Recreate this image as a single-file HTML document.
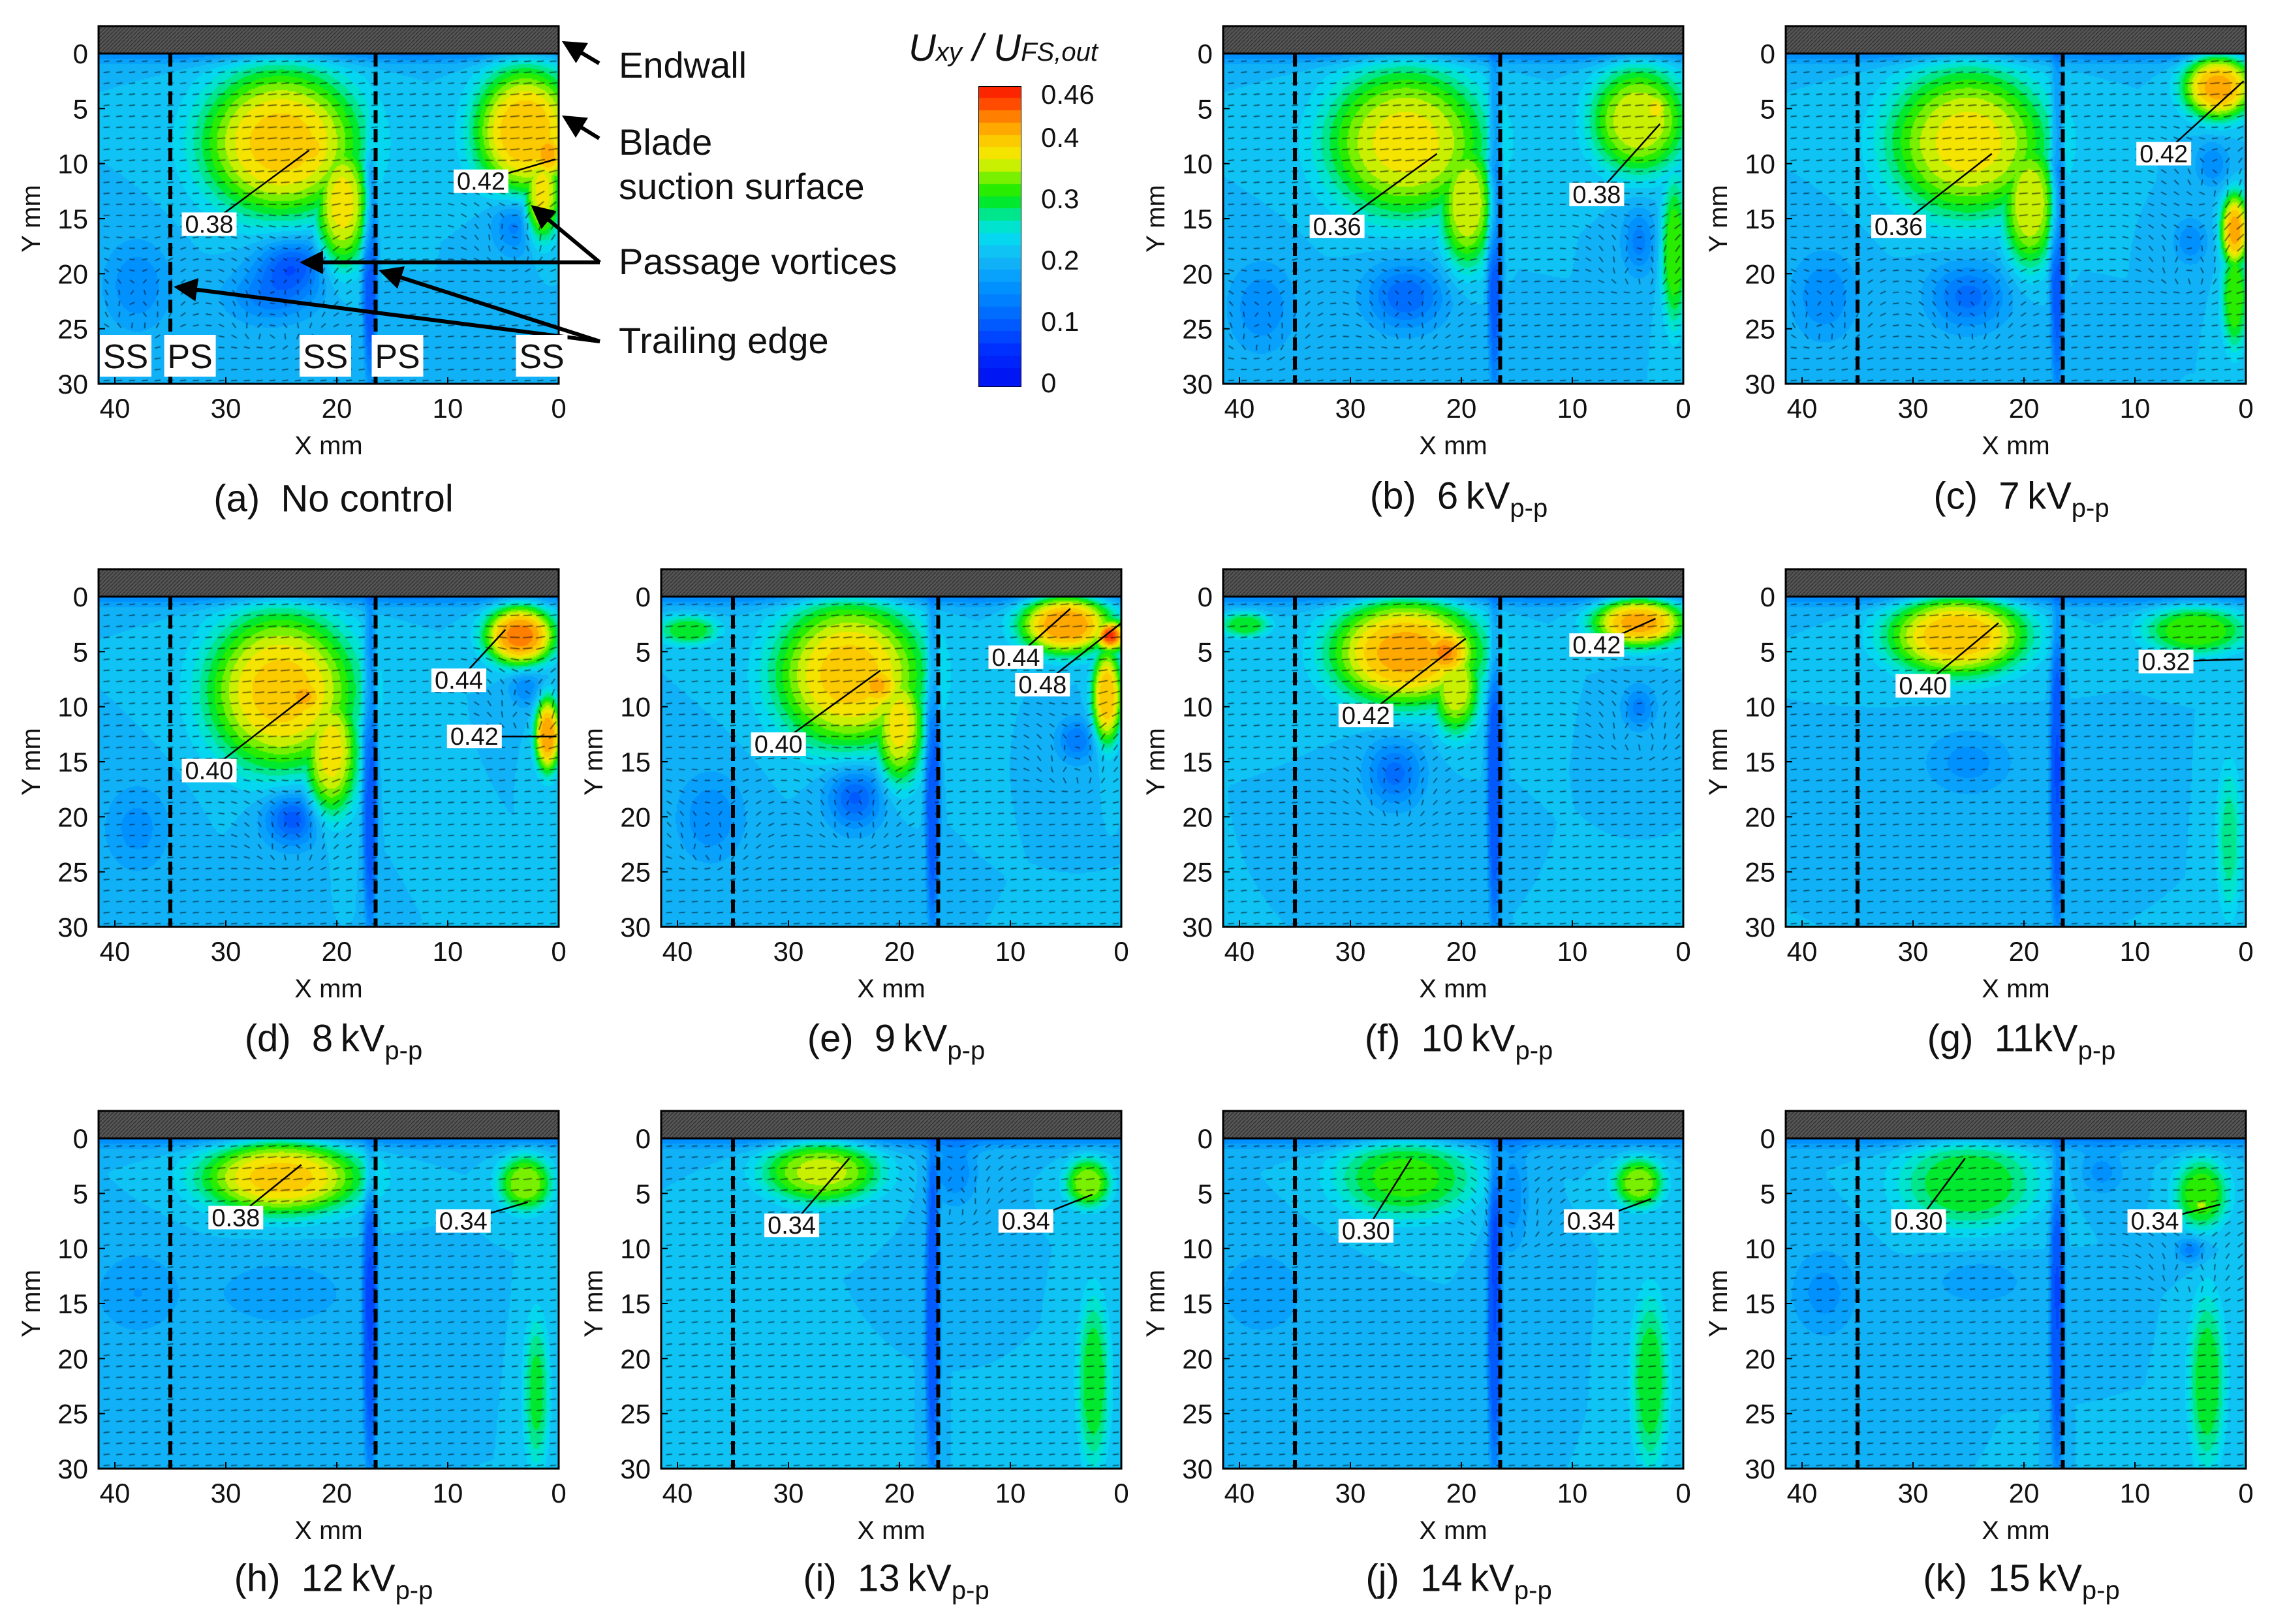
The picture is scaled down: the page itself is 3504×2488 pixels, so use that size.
<!DOCTYPE html>
<html><head><meta charset="utf-8">
<style>
html,body{margin:0;padding:0;background:#fff;}
#root{position:relative;width:3504px;height:2488px;overflow:hidden;background:#fff;font-family:"Liberation Sans",Arial,sans-serif;}
canvas{position:absolute;}
svg{position:absolute;left:0;top:0;}
.cap{position:absolute;font-size:58px;color:#111;white-space:nowrap;transform:translate(-50%,-50%);}
.cap sub{font-size:40px;vertical-align:-12px;}
.ann{position:absolute;font-size:56px;color:#111;white-space:nowrap;line-height:1;}
</style></head>
<body>
<div id="root">
<svg id="ov" width="3504" height="2488"></svg>

<div class="cap" style="left:511px;top:764px">(a)&nbsp; No control</div>
<div class="cap" style="left:2235px;top:764px">(b)&nbsp; 6&#8201;kV<sub>p-p</sub></div>
<div class="cap" style="left:3097px;top:764px">(c)&nbsp; 7&#8201;kV<sub>p-p</sub></div>
<div class="cap" style="left:511px;top:1595px">(d)&nbsp; 8&#8201;kV<sub>p-p</sub></div>
<div class="cap" style="left:1373px;top:1595px">(e)&nbsp; 9&#8201;kV<sub>p-p</sub></div>
<div class="cap" style="left:2235px;top:1595px">(f)&nbsp; 10&#8201;kV<sub>p-p</sub></div>
<div class="cap" style="left:3097px;top:1595px">(g)&nbsp; 11kV<sub>p-p</sub></div>
<div class="cap" style="left:511px;top:2422px">(h)&nbsp; 12&#8201;kV<sub>p-p</sub></div>
<div class="cap" style="left:1373px;top:2422px">(i)&nbsp; 13&#8201;kV<sub>p-p</sub></div>
<div class="cap" style="left:2235px;top:2422px">(j)&nbsp; 14&#8201;kV<sub>p-p</sub></div>
<div class="cap" style="left:3097px;top:2422px">(k)&nbsp; 15&#8201;kV<sub>p-p</sub></div>

<div class="ann" style="left:948px;top:72px">Endwall</div>
<div class="ann" style="left:948px;top:190px">Blade</div>
<div class="ann" style="left:948px;top:258px">suction surface</div>
<div class="ann" style="left:948px;top:373px">Passage vortices</div>
<div class="ann" style="left:948px;top:494px">Trailing edge</div>

<div class="ann" style="left:1392px;top:45px;font-style:italic;font-size:58px">U<span style="font-size:40px">xy</span> / U<span style="font-size:40px">FS,out</span></div>
</div>

<script>
// ---- data ----
const panelIds=['a','b','c','d','e','f','g','h','i','j','k'];
const panelRow=[0,0,0,1,1,1,1,2,2,2,2];
const panelCol=[0,2,3,0,1,2,3,0,1,2,3];
const xTicks=[40,30,20,10,0];
const yTicks=[0,5,10,15,20,25,30];
const cbTicks=[0,0.1,0.2,0.3,0.4,0.46];
const cbTickLabels=['0','0.1','0.2','0.3','0.4','0.46'];
const baseLevel=0.2;
const wake=[17,16,0.7,15,-0.12,2];
const endwallLayer=[20,-0.5,60,1.2,-0.08,1];
// blobs: [xmm, ymm, sx, sy, amplitude, shapePower]; positive blobs combine by max
const blobsA=[[25,8,7.5,7,0.19,1.5],[22.5,8.5,3,3,0.2,1],[19.5,13.5,2.5,6,0.17,1.5],[3,7,4.8,6,0.2,1.5],[1,9,2,3,0.22,1],[1.5,12.5,1.7,4.5,0.17,1.5],[24,19,3,2.5,-0.11,1],[26,22,4,2.5,-0.07,1],[38,21,3,4,-0.06,1],[4,15,2,3,-0.08,1],[17,19,0.7,11,-0.12,2],endwallLayer];
const blobsB=[[25,8,7.5,7,0.17,1.5],[19.5,13.5,2.5,6,0.16,1.5],[4,6,4.5,5,0.16,1.5],[2.5,5,1.5,2,0.18,1],[0.8,18,1.2,7,0.12,1.5],[25,22,3.5,3,-0.1,1],[38,23,3,4,-0.06,1],[4,17,1.5,3,-0.07,1],wake,endwallLayer];
const blobsC=[[25,8,7.5,7,0.17,1.5],[19.5,13.5,2.5,6,0.16,1.5],[2.5,3,3.3,3,0.21,1.5],[1,16,1.3,3.5,0.21,1.5],[1,22,1.2,5,0.12,1.5],[3,10,1.5,2,-0.06,1],[5,17,1.5,2,-0.06,1],[25,22,3.5,3,-0.09,1],[38,22,3,4,-0.06,1],wake,endwallLayer];
const blobsD=[[25,8.5,7,7.5,0.19,1.5],[23,9,3,3,0.21,1],[20.5,14,2.5,6,0.17,1.5],[3.5,3.5,3.3,2.8,0.23,1.5],[1,12.5,1.2,3.5,0.22,1.5],[3,8,1.5,2,-0.06,1],[24,20,2.5,2.5,-0.12,1],[38,21,3,4,-0.05,1],wake,endwallLayer];
const blobsE=[[24.5,7,7,7,0.19,1.5],[22,8,3,3,0.21,1],[20,11.5,2.3,5.5,0.17,1.5],[39,3,2.8,1.4,0.1,1.5],[5,2.5,4.3,2.8,0.22,1.5],[1,3.5,1.5,1.5,0.27,1],[1.3,9,1.4,4.5,0.2,1.5],[4,13,1.8,2,-0.08,1],[24,18,2.5,3,-0.11,1],[37,20,3,4,-0.06,1],wake,endwallLayer];
const blobsF=[[25,5,7,5,0.21,1.5],[21.5,5,3,3,0.23,1],[20.5,8,2.2,4.5,0.16,1.5],[39.5,2.5,2.3,1.2,0.1,1.5],[4,2.3,4.3,2.3,0.21,1.5],[4,10,1.5,2,-0.07,1],[26,16,2.5,3,-0.09,1],wake,endwallLayer];
const blobsG=[[26,3.5,6.5,3.8,0.2,1.5],[4.5,3,4.8,2.3,0.12,1.5],[25,15,4,3,-0.05,1],[1.5,22,1.2,7,0.07,1.5],wake,endwallLayer];
const blobsH=[[25,3.5,7.5,3.5,0.19,1.5],[3,4,2.5,2.6,0.14,1.5],[2,23,1.2,7,0.09,1.5],[25,14,6,3,-0.04,1],[38,14,4,4,-0.04,1],wake,endwallLayer];
const blobsI=[[27,3,5.5,2.9,0.15,1.5],[3,4,2.1,2.3,0.14,1.5],[2.5,22,1.5,8,0.1,1.5],[15,3,2,3,-0.06,1],wake,endwallLayer];
const blobsJ=[[25,3.5,6.5,3.8,0.11,1.5],[4,4,2.3,2.3,0.14,1.5],[3,22,1.7,8,0.1,1.5],[15.5,5,1.5,5,-0.06,1],[38,14,4,4,-0.04,1],wake,endwallLayer];
const blobsK=[[25,4,6.5,4.3,0.1,1.5],[4,5,2.5,3.3,0.12,1.5],[4,6,1,0.8,0.15,1],[5,10,1.3,1.2,-0.07,1],[3.5,22,1.7,8,0.1,1.5],[38,14,3,4,-0.05,1],[24,13,4,2,-0.04,1],[13,3,2,2,-0.05,1],wake,endwallLayer];
const panelBlobs=[blobsA,blobsB,blobsC,blobsD,blobsE,blobsF,blobsG,blobsH,blobsI,blobsJ,blobsK];
// contour labels: [text, boxX mm, boxY mm, leaderEndX mm, leaderEndY mm]
const labelsA=[['0.38',31.5,15.5,22.5,8.8],['0.42',7,11.6,0.3,9.6]];
const labelsB=[['0.36',31.2,15.7,22.2,9.1],['0.38',7.8,12.8,2.1,6.4]];
const labelsC=[['0.36',31.3,15.7,22.9,9.1],['0.42',7.4,9.1,0.2,2.5]];
const labelsD=[['0.40',31.5,15.8,22.5,8.8],['0.44',9,7.6,4.8,3],['0.42',7.6,12.7,0.2,12.7]];
const labelsE=[['0.40',30.9,13.4,21.7,6.7],['0.44',9.5,5.5,4.6,1.1],['0.48',7.1,8,0,2.4]];
const labelsF=[['0.42',28.6,10.8,19.6,3.8],['0.42',7.8,4.4,2.5,2]];
const labelsG=[['0.40',29.1,8.1,22.3,2.4],['0.32',7.2,5.9,0.3,5.7]];
const labelsH=[['0.38',29.1,7.2,23.2,2.4],['0.34',8.6,7.5,2.8,5.8]];
const labelsI=[['0.34',29.7,7.9,24.5,1.8],['0.34',8.6,7.5,2.6,5.1]];
const labelsJ=[['0.30',28.6,8.4,24.5,1.8],['0.34',8.3,7.5,2.9,5.5]];
const labelsK=[['0.30',29.5,7.5,25.3,1.8],['0.34',8.2,7.5,2.3,6]];
const panelLabels=[labelsA,labelsB,labelsC,labelsD,labelsE,labelsF,labelsG,labelsH,labelsI,labelsJ,labelsK];
const ssps=[['SS',39],['PS',33.2],['SS',21],['PS',14.5],['SS',1.5]];

// ---- layout ----
const colLeft=[151,1013,1874,2736];
const rowY0=[82,914,1744];
const PW=705,PH=506,PXMM=17.0;
const NS='http://www.w3.org/2000/svg';
const ov=document.getElementById('ov');
const root=document.getElementById('root');
function el(tag,attrs,parent){const e=document.createElementNS(NS,tag);for(const k in attrs)e.setAttribute(k,attrs[k]);(parent||ov).appendChild(e);return e;}

const stops=[[0,[0,16,240]],[0.05,[0,48,255]],[0.1,[0,100,255]],[0.15,[0,145,255]],[0.2,[20,185,245]],[0.24,[0,225,240]],[0.27,[0,230,140]],[0.3,[0,235,0]],[0.33,[120,240,0]],[0.36,[240,240,0]],[0.4,[255,190,0]],[0.43,[255,128,0]],[0.46,[255,50,0]],[0.5,[240,0,0]]];
function cmap(v){
  v=Math.max(0,Math.min(0.49,v));
  v=Math.floor(v/0.02)*0.02+0.01;
  for(let i=1;i<stops.length;i++){if(v<=stops[i][0]){const a=stops[i-1],b=stops[i];const t=(v-a[0])/(b[0]-a[0]);return [0,1,2].map(k=>Math.round(a[1][k]+(b[1][k]-a[1][k])*t));}}
  return stops[stops.length-1][1];
}
function field(blobs,x,y){
  let pos=0,neg=0;
  for(const b of blobs){const dx=(x-b[0])/b[2],dy=(y-b[1])/b[3];const q=dx*dx+dy*dy;const c=b[4]*Math.exp(-Math.pow(q,b[5]));
    if(c>0){if(c>pos)pos=c;}else neg+=c;}
  return baseLevel+pos+neg*(1-Math.min(1,pos/0.12)*0.8);
}

// ---- colorbar ----
(function(){
  const cx=1500,cw=64,top=133,zeroY=582,scale=940;
  const cv=document.createElement('canvas');
  
  
  cv.width=cw;cv.height=592-top;cv.style.left=cx+'px';cv.style.top=top+'px';
  const c=cv.getContext('2d');
  for(let py=0;py<cv.height;py++){const v=(zeroY-(top+py))/scale;const col=cmap(v<0?0:v);c.fillStyle=`rgb(${col})`;c.fillRect(0,py,cw,1);}
  root.appendChild(cv);
  el('rect',{x:cx,y:top,width:cw,height:592-top,fill:'none',stroke:'#000','stroke-width':2});
  cbTicks.forEach((t,i)=>{
    const y=zeroY-t*scale;
    if(i<5){const ln=el('line',{x1:cx,x2:cx+cw,y1:y,y2:y,stroke:'#000','stroke-width':2});
    
    }
    const tx=el('text',{x:1595,y:(i==5?145:y+5)+14,'font-size':42,'font-family':'Liberation Sans, sans-serif',fill:'#111'});
    tx.textContent=cbTickLabels[i];
    
    
  });
})();

// ---- annotation arrows ----
const defs=el('defs',{});
const mk=el('marker',{id:'ah',markerWidth:6,markerHeight:6,refX:5,refY:3,orient:'auto',markerUnits:'strokeWidth'},defs);
el('path',{d:'M0,0 L6,3 L0,6 z',fill:'#000'},mk);
const pat=el('pattern',{id:'hatch',width:6,height:6,patternUnits:'userSpaceOnUse'},defs);
el('rect',{width:6,height:6,fill:'#555'},pat);
el('path',{d:'M0,6 L6,0',stroke:'#333','stroke-width':1.5},pat);
const arrows=[[918,97,866,66],[918,212,866,180],[919,402,465,402],[919,402,818,318],[919,523,272,440],[919,523,586,416]];
arrows.forEach(a=>{const l=el('line',{x1:a[0],y1:a[1],x2:a[2],y2:a[3],stroke:'#000','stroke-width':6,'marker-end':'url(#ah)'});

});

// ---- panels ----
panelIds.forEach((id,pi)=>{
  const L=colLeft[panelCol[pi]],T=rowY0[panelRow[pi]];
  const blobs=panelBlobs[pi];
  const xp=x=>L+PW-x*PXMM, yp=y=>T+y*PH/30;
  const cv=document.createElement('canvas');
  
  
  cv.width=PW;cv.height=PH;cv.style.left=L+'px';cv.style.top=T+'px';
  const c=cv.getContext('2d');
  const img=c.createImageData(PW,PH);
  const st=2;
  for(let py=0;py<PH;py+=st){for(let px=0;px<PW;px+=st){
    const x=(PW-px-1)/PXMM,y=py*30/PH;
    const col=cmap(field(blobs,x,y));
    for(let dy=0;dy<st&&py+dy<PH;dy++)for(let dx=0;dx<st&&px+dx<PW;dx++){const o=((py+dy)*PW+px+dx)*4;img.data[o]=col[0];img.data[o+1]=col[1];img.data[o+2]=col[2];img.data[o+3]=255;}
  }}
  c.putImageData(img,0,0);
  c.strokeStyle='rgba(0,0,0,0.6)';c.lineWidth=1.7;
  const vort=blobs.filter(b=>b[4]<=-0.06&&b[3]<6&&b[2]<5);
  for(let y=0.7;y<30;y+=1.0){for(let x=0.5;x<41.4;x+=1.15){
    let ux=1,uy=-0.1;
    for(const b of vort){const dx=x-b[0],dy=y-b[1];const r=Math.sqrt(dx*dx+dy*dy)+0.01;const w=2.2*Math.exp(-r*r/(2*9));ux+= -dy/r*w;uy+=dx/r*w;}
    const n=Math.hypot(ux,uy);ux/=n;uy/=n;
    const v=field(blobs,x,y);const len=4+v*26;
    const px=PW-x*PXMM,py=y*PH/30;
    c.beginPath();c.moveTo(px-ux*len/2,py-uy*len/2);c.lineTo(px+ux*len/2,py+uy*len/2);c.stroke();
  }}
  root.insertBefore(cv,ov);
  const g=el('g',{});
  
  
  [35,16.5].forEach(x=>{const d=el('line',{x1:xp(x),x2:xp(x),y1:T,y2:T+PH,stroke:'#000','stroke-width':6,'stroke-dasharray':'20 9'},g);
  
  });
  const ew=el('rect',{x:L,y:T-42,width:PW,height:42,fill:'url(#hatch)',stroke:'#000','stroke-width':3},g);
  
  
  el('rect',{x:L,y:T,width:PW,height:PH,fill:'none',stroke:'#000','stroke-width':3},g);
  xTicks.forEach(t=>{const x=xp(t);el('line',{x1:x,x2:x,y1:T+PH,y2:T+PH-10,stroke:'#000','stroke-width':2},g);
    const tx=el('text',{x:x,y:T+PH+52,'text-anchor':'middle','font-size':42,'font-family':'Liberation Sans, sans-serif',fill:'#111'},g);tx.textContent=t;
    
    });
  yTicks.forEach(t=>{const y=yp(t);el('line',{x1:L,x2:L+10,y1:y,y2:y,stroke:'#000','stroke-width':2},g);
    const tx=el('text',{x:L-16,y:y+15,'text-anchor':'end','font-size':42,'font-family':'Liberation Sans, sans-serif',fill:'#111'},g);tx.textContent=t;
    
    });
  const xl=el('text',{x:L+PW/2,y:T+PH+108,'text-anchor':'middle','font-size':40,'font-family':'Liberation Sans, sans-serif',fill:'#111'},g);xl.textContent='X mm';
  
  
  const yl=el('text',{x:0,y:0,'text-anchor':'middle','font-size':40,'font-family':'Liberation Sans, sans-serif',fill:'#111',transform:`translate(${L-90},${T+PH/2}) rotate(-90)`},g);yl.textContent='Y mm';
  
  
  panelLabels[pi].forEach(lb=>{
    const bx=xp(lb[1]),by=yp(lb[2]);const ex=xp(lb[3]),ey=yp(lb[4]);
    const ln=el('line',{x1:bx,y1:by,x2:ex,y2:ey,stroke:'#000','stroke-width':2.5},g);
    
    
    el('rect',{x:bx-42,y:by-18,width:84,height:36,fill:'#fff'},g);
    const tx=el('text',{x:bx,y:by+13,'text-anchor':'middle','font-size':38,'font-family':'Liberation Sans, sans-serif',fill:'#111'},g);tx.textContent=lb[0];
    
    
  });
  if(id==='a'){
    ssps.forEach(s=>{const x=xp(s[1])-40;
      el('rect',{x:x,y:513,width:79,height:64,fill:'#fff'},g);
      const tx=el('text',{x:x+39.5,y:564,'text-anchor':'middle','font-size':52,'font-family':'Liberation Sans, sans-serif',fill:'#111'},g);tx.textContent=s[0];
      
      });
  }
});
</script>
</body></html>
